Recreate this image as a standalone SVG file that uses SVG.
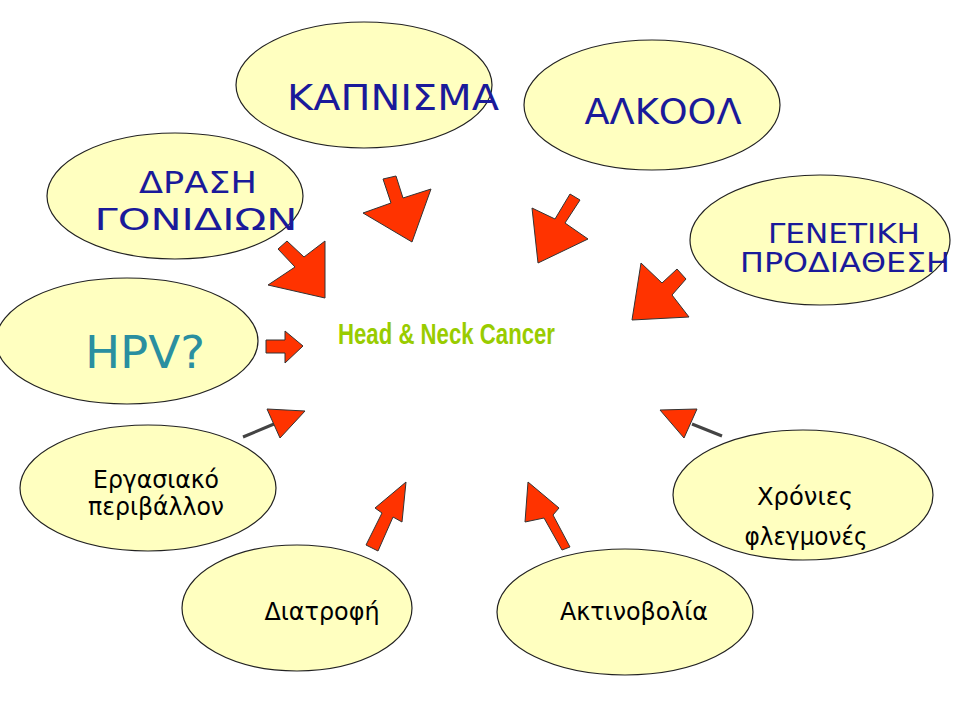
<svg xmlns="http://www.w3.org/2000/svg" width="960" height="720" viewBox="0 0 960 720">
<style>
.n{fill:#ffffc0;stroke:#222;stroke-width:1.2}
.a{fill:#ff3300;stroke:#333;stroke-width:1}
.t{font-family:"DejaVu Sans",sans-serif;text-anchor:middle}
.b{fill:#1a1a9a}
.k{fill:#000}
</style>
<rect width="960" height="720" fill="#fff"/>
<g id="kapnisma"><ellipse class="n" cx="364" cy="85" rx="128" ry="63"/><text class="t b" x="393" y="110" font-size="35" textLength="212" lengthAdjust="spacingAndGlyphs">ΚΑΠΝΙΣΜΑ</text></g>
<g id="alkool"><ellipse class="n" cx="652" cy="105" rx="128" ry="65"/><text class="t b" x="663" y="124" font-size="35" textLength="157" lengthAdjust="spacingAndGlyphs">ΑΛΚΟΟΛ</text></g>
<g id="drasi"><ellipse class="n" cx="175" cy="196" rx="128" ry="63"/><text class="t b" x="198" y="193" font-size="30" textLength="118" lengthAdjust="spacingAndGlyphs">ΔΡΑΣΗ</text><text class="t b" x="196" y="230" font-size="30" textLength="203" lengthAdjust="spacingAndGlyphs">ΓΟΝΙΔΙΩΝ</text></g>
<g id="genetiki"><ellipse class="n" cx="820" cy="240" rx="130" ry="65"/><text class="t b" x="844" y="243" font-size="27" textLength="152" lengthAdjust="spacingAndGlyphs">ΓΕΝΕΤΙΚΗ</text><text class="t b" x="845" y="272" font-size="27" textLength="210" lengthAdjust="spacingAndGlyphs">ΠΡΟΔΙΑΘΕΣΗ</text></g>
<g id="hpv"><ellipse class="n" cx="127" cy="341" rx="131" ry="63"/><text class="t" x="145" y="368" font-size="44" fill="#2a8fa0" textLength="120" lengthAdjust="spacingAndGlyphs">HPV?</text></g>
<g id="ergasiako"><ellipse class="n" cx="148" cy="488" rx="128" ry="63"/><text class="t k" x="156" y="488" font-size="24" textLength="126" lengthAdjust="spacingAndGlyphs">Εργασιακό</text><text class="t k" x="156" y="515" font-size="24" textLength="136" lengthAdjust="spacingAndGlyphs">περιβάλλον</text></g>
<g id="chronies"><ellipse class="n" cx="803" cy="495" rx="130" ry="65"/><text class="t k" x="805" y="505" font-size="24" textLength="96" lengthAdjust="spacingAndGlyphs">Χρόνιες</text><text class="t k" x="806" y="545" font-size="24" textLength="123" lengthAdjust="spacingAndGlyphs">φλεγμονές</text></g>
<g id="diatrofi"><ellipse class="n" cx="297" cy="608" rx="115" ry="63"/><text class="t k" x="322" y="620" font-size="24" textLength="115" lengthAdjust="spacingAndGlyphs">Διατροφή</text></g>
<g id="aktinovolia"><ellipse class="n" cx="625" cy="612" rx="128" ry="63"/><text class="t k" x="634" y="620" font-size="24" textLength="148" lengthAdjust="spacingAndGlyphs">Ακτινοβολία</text></g>
<g id="center"><text x="338" y="344" font-family="Liberation Sans,sans-serif" font-weight="bold" font-size="29" fill="#99cc00" textLength="217" lengthAdjust="spacingAndGlyphs">Head &amp; Neck Cancer</text></g>
<g id="connectors">
<polygon class="a" points="383,179 396,176 403,198 431,189 412,242 363,213 391,203"/>
<polygon class="a" points="570,194 580,200 565,223 588,239 538,263 532,208 555,219"/>
<polygon class="a" points="278,249 287,241 304,257 325,241 325,298 268,285 295,267"/>
<polygon class="a" points="677,269 686,279 672,295 689,317 632,320 641,263 662,283"/>
<polygon class="a" points="266,340 285,340 285,331 303,346 285,363 285,353 266,353"/>
<line x1="243" y1="437" x2="274" y2="424" stroke="#444" stroke-width="3"/>
<polygon class="a" points="267,409 305,411 280,438"/>
<line x1="692" y1="424" x2="722" y2="436" stroke="#444" stroke-width="3"/>
<polygon class="a" points="660,410 697,409 684,438"/>
<polygon class="a" points="366,545 378,551 393,517 402,522 406,482 375,508 382,513"/>
<polygon class="a" points="562,550 570,547 553,515 559,508 528,482 525,522 544,518"/>
</g>
</svg>
